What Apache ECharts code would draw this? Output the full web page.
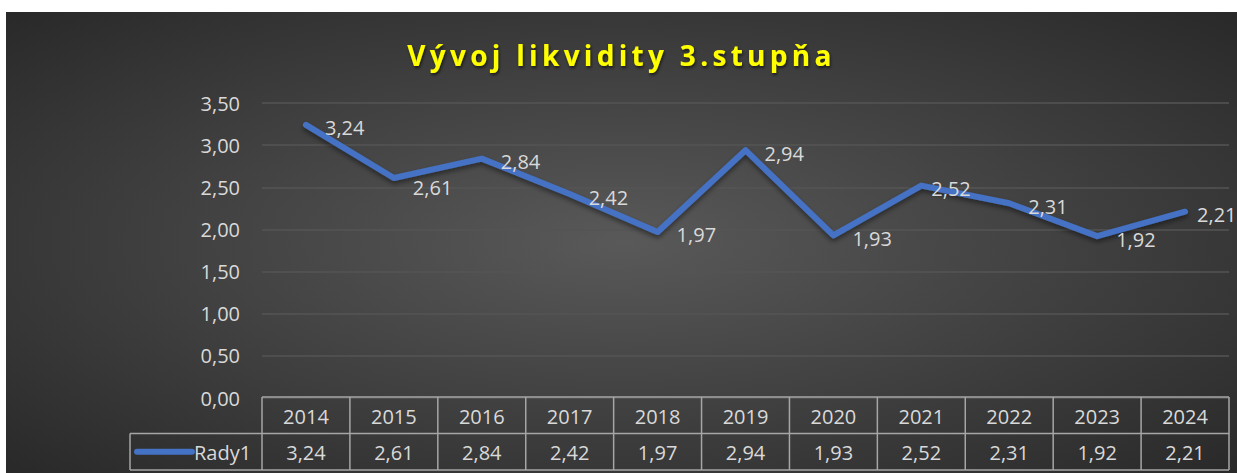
<!DOCTYPE html>
<html>
<head>
<meta charset="utf-8">
<script src="https://cdn.jsdelivr.net/npm/echarts@6/dist/echarts.min.js"></script>
<style>
  html, body { margin: 0; padding: 0; background: #fff; }
  #chart { position: absolute; left: 6px; top: 12px; width: 1231px; height: 461px; }
</style>
</head>
<body>
<div id="chart"></div>
<script>
var years = ['2014', '2015', '2016', '2017', '2018', '2019', '2020', '2021', '2022', '2023', '2024'];
var values = [3.24, 2.61, 2.84, 2.42, 1.97, 2.94, 1.93, 2.52, 2.31, 1.92, 2.21];
var seriesName = 'Rady1';
var titleText = 'Vývoj likvidity 3.stupňa';

var FONT = 'Open Sans';
var TXT = '#d9d9d9';
var BLUE = '#4472c4';

// Excel nudged a few labels to avoid the line / the edge
var labelTweaks = {
  1: { offset: [0, 9] },
  7: { distance: 10 },
  10: { distance: 12 }
};

function fmt(v) {
  return v.toFixed(2).replace('.', ',');
}

var seriesData = values.map(function (v, i) {
  return labelTweaks[i] ? { value: v, label: labelTweaks[i] } : v;
});

var myChart = echarts.init(document.getElementById('chart'), null, { renderer: 'svg' });

myChart.setOption({
  animation: false,
  backgroundColor: {
    type: 'radial', x: 0.5, y: 0.5, r: 0.75,
    colorStops: [
      { offset: 0, color: '#595959' },
      { offset: 1, color: '#262626' }
    ]
  },
  title: {
    text: titleText,
    left: 'center',
    top: 24,
    textStyle: {
      color: '#ffff00', fontFamily: FONT, fontWeight: 'bold', fontSize: 28,
      textShadowColor: 'rgba(0,0,0,0.6)', textShadowBlur: 3,
      textShadowOffsetX: 1, textShadowOffsetY: 2
    }
  },
  grid: { left: 256, right: 8, top: 91, bottom: 75 },
  xAxis: {
    type: 'category',
    data: years,
    boundaryGap: true,
    axisLine: { show: false },
    axisTick: { show: false },
    axisLabel: { show: false }
  },
  yAxis: {
    type: 'value',
    min: 0,
    max: 3.5,
    interval: 0.5,
    axisLine: { show: false },
    axisTick: { show: false },
    axisLabel: {
      color: TXT, fontFamily: FONT, fontSize: 20, margin: 22,
      formatter: function (v) { return fmt(v); }
    },
    splitLine: { lineStyle: { color: '#555555', width: 1.5 } }
  },
  series: [{
    name: seriesName,
    type: 'line',
    data: seriesData,
    symbol: 'circle',
    symbolSize: 0,
    showSymbol: true,
    lineStyle: {
      color: BLUE, width: 6, cap: 'round', join: 'round',
      shadowColor: 'rgba(0,0,0,0.45)', shadowBlur: 5, shadowOffsetY: 3
    },
    itemStyle: { color: BLUE },
    label: {
      show: true,
      position: 'right',
      distance: 19,
      offset: [0, 3],
      color: TXT,
      fontFamily: FONT,
      fontSize: 20,
      formatter: function (p) { return fmt(p.value); }
    }
  }]
});

// data table under the plot, placed from the axis scales
function drawTable() {
  var x0 = myChart.convertToPixel({ xAxisIndex: 0 }, 0);
  var x1 = myChart.convertToPixel({ xAxisIndex: 0 }, 1);
  var w = x1 - x0;
  var top = myChart.convertToPixel({ yAxisIndex: 0 }, 0) - 1;
  var rowH = 36.5;
  var left = x0 - w / 2;
  var right = left + w * years.length;
  var legendLeft = left - 132;
  var stroke = { stroke: '#a6a6a6', lineWidth: 1.5 };
  var els = [];

  function line(xa, ya, xb, yb) {
    els.push({ type: 'line', shape: { x1: xa, y1: ya, x2: xb, y2: yb }, style: stroke, silent: true });
  }
  function text(x, y, s, align) {
    els.push({ type: 'text', x: x, y: y, silent: true,
      style: { text: s, fill: TXT, font: '20px "' + FONT + '"', textAlign: align || 'center', textVerticalAlign: 'middle' } });
  }

  line(left, top, right, top);
  line(legendLeft, top + rowH, right, top + rowH);
  line(legendLeft, top + 2 * rowH, right, top + 2 * rowH);
  line(legendLeft, top + rowH, legendLeft, top + 2 * rowH);
  for (var i = 0; i <= years.length; i++) {
    line(left + i * w, top, left + i * w, top + 2 * rowH);
  }
  for (var j = 0; j < years.length; j++) {
    var cx = left + (j + 0.5) * w;
    text(cx, top + rowH / 2 + 1, years[j]);
    text(cx, top + rowH * 1.5 + 1, fmt(values[j]));
  }
  var ly = top + rowH * 1.5;
  els.push({ type: 'line', shape: { x1: legendLeft + 7, y1: ly, x2: legendLeft + 62, y2: ly },
    style: { stroke: BLUE, lineWidth: 6, lineCap: 'round' }, silent: true });
  text(legendLeft + 64, ly + 1, seriesName, 'left');

  myChart.setOption({ graphic: { elements: els } });
}
drawTable();

// the title in the original is letter-spaced
var svgTexts = document.querySelectorAll('#chart svg text');
for (var k = 0; k < svgTexts.length; k++) {
  if (svgTexts[k].textContent === titleText) {
    svgTexts[k].setAttribute('letter-spacing', '4.3px');
  }
}
</script>
</body>
</html>
